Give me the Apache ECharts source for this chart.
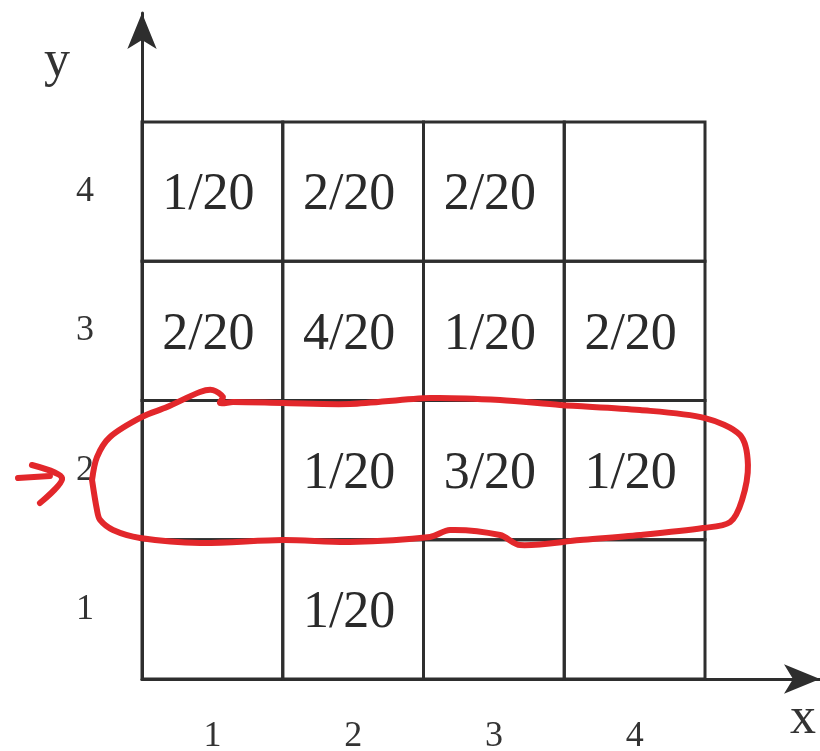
<!DOCTYPE html>
<html>
<head>
<meta charset="utf-8">
<script src="https://cdn.jsdelivr.net/npm/echarts@6/dist/echarts.min.js"></script>
<style>
  html, body { margin: 0; padding: 0; background: #fff; }
  #chart { width: 820px; height: 751px; }
</style>
</head>
<body>
<div id="chart"></div>
<script>
// joint distribution table, numerators over 20 (null = empty cell)
const xValues = [1, 2, 3, 4];
const yValues = [1, 2, 3, 4];
const denominator = 20;
const row1 = [null, 1, null, null];
const row2 = [null, 1, 3, 1];
const row3 = [2, 4, 1, 2];
const row4 = [1, 2, 2, null];

// hand-drawn red loop around y = 2 (data units)
const loopPoints = [
  [0.145, 1.929], [0.18, 2.094], [0.273, 2.238], [0.5, 2.382], [0.678, 2.453],
  [0.912, 2.561], [1.004, 2.575], [1.075, 2.525], [1.054, 2.482], [1.147, 2.489],
  [1.502, 2.482], [1.978, 2.475], [2.546, 2.518], [3.044, 2.504], [3.47, 2.468],
  [4.038, 2.432], [4.5, 2.374], [4.749, 2.252], [4.805, 2.037], [4.763, 1.785],
  [4.678, 1.627], [4.486, 1.584], [4.038, 1.534], [3.612, 1.498], [3.186, 1.462],
  [3.044, 1.534], [2.688, 1.57], [2.546, 1.52], [1.978, 1.484], [1.502, 1.498],
  [0.912, 1.477], [0.486, 1.513], [0.294, 1.57], [0.202, 1.642], [0.18, 1.714],
  [0.145, 1.929]
];
const arrowShaft = [[-0.381, 1.943], [-0.154, 1.958]];
const arrowHead = [[-0.282, 2.037], [-0.068, 1.943], [-0.225, 1.764]];
const strokes = [loopPoints, arrowShaft, arrowHead];

const rows = [row1, row2, row3, row4];
const cells = [];
yValues.forEach((y, j) => {
  xValues.forEach((x, i) => {
    cells.push([x, y, rows[j][i]]);
  });
});

const chart = echarts.init(document.getElementById('chart'));
const lineColor = '#2e2e2e';
const red = '#e2272b';
const serif = 'Liberation Serif';

chart.setOption({
  animation: false,
  grid: { left: 142, right: 0, top: 13, bottom: 72, outerBoundsMode: 'none' },
  xAxis: {
    type: 'value',
    min: 0.5,
    max: 5.317,
    name: 'x',
    nameLocation: 'end',
    nameGap: -17,
    nameTextStyle: {
      fontFamily: serif, fontSize: 52, color: '#333',
      align: 'center', verticalAlign: 'top', lineHeight: 80
    },
    axisLine: {
      lineStyle: { color: lineColor, width: 3 },
      symbol: ['none', 'arrow'],
      symbolSize: [22, 36]
    },
    axisTick: { show: false },
    splitLine: { show: false },
    axisLabel: {
      customValues: xValues,
      margin: 40,
      fontFamily: serif, fontSize: 36, color: '#333'
    }
  },
  yAxis: {
    type: 'value',
    min: 0.5,
    max: 5.283,
    name: 'y',
    nameLocation: 'end',
    nameGap: -49,
    nameTextStyle: {
      fontFamily: serif, fontSize: 52, color: '#333',
      align: 'right', verticalAlign: 'middle', padding: [0, 72, 0, 0]
    },
    axisLine: {
      show: true,
      lineStyle: { color: lineColor, width: 3 },
      symbol: ['none', 'arrow'],
      symbolSize: [22, 36]
    },
    axisTick: { show: false },
    splitLine: { show: false },
    axisLabel: {
      customValues: yValues,
      margin: 48,
      fontFamily: serif, fontSize: 36, color: '#333'
    }
  },
  series: [
    {
      type: 'custom',
      clip: false,
      data: cells,
      renderItem: function (params, api) {
        const x = api.value(0);
        const y = api.value(1);
        const n = api.value(2);
        const tl = api.coord([x - 0.5, y + 0.5]);
        const br = api.coord([x + 0.5, y - 0.5]);
        const children = [{
          type: 'rect',
          shape: { x: tl[0], y: tl[1], width: br[0] - tl[0], height: br[1] - tl[1] },
          style: { fill: 'none', stroke: lineColor, lineWidth: 3 }
        }];
        if (n !== null && !isNaN(n)) {
          children.push({
            type: 'text',
            x: (tl[0] + br[0]) / 2 - 4,
            y: (tl[1] + br[1]) / 2 + 4,
            style: {
              text: n + '/' + denominator,
              fontFamily: serif,
              fontSize: 52,
              fill: '#2a2a2a',
              align: 'center',
              verticalAlign: 'middle'
            }
          });
        }
        return { type: 'group', children: children };
      }
    },
    {
      // red pen annotation
      type: 'custom',
      clip: false,
      z: 5,
      data: strokes.map((s, i) => [i]),
      renderItem: function (params, api) {
        const pts = strokes[api.value(0)].map(p => api.coord(p));
        return {
          type: 'polyline',
          shape: { points: pts, smooth: 0.3 },
          style: { fill: 'none', stroke: red, lineWidth: 6, lineCap: 'round', lineJoin: 'round' }
        };
      }
    }
  ]
});
</script>
</body>
</html>
